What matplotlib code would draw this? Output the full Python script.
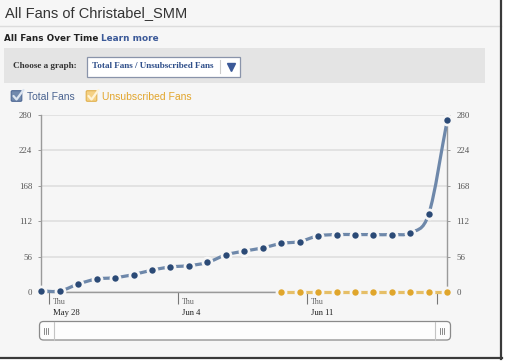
import numpy as np
import matplotlib
matplotlib.use("Agg")
import matplotlib.pyplot as plt
import matplotlib.transforms as mtransforms
from matplotlib.path import Path
from matplotlib.patches import PathPatch, Rectangle, FancyBboxPatch

# ---------------- data ----------------
total_fans = [2, 2, 13, 21, 23, 28, 35, 40, 42, 47, 59, 65, 70, 77, 80, 89,
              91, 91, 91, 91, 94, 124, 272]
unsub_start = 13
unsub_fans = [0, 0, 0, 0, 0, 0, 0, 0, 0, 0]
y_ticks = [0, 56, 112, 168, 224, 280]
week_labels = [("Thu", "May 28"), ("Thu", "Jun 4"), ("Thu", "Jun 11"), ("", "")]
title = "All Fans of Christabel_SMM"

W, H = 506, 361
BG = "#f6f6f6"
BLUE_LINE = "#6e88aa"
BLUE_DOT = "#2b4a76"
ORANGE_LINE = "#e6bf67"
ORANGE_DOT = "#e0a62c"

fig = plt.figure(figsize=(W / 100, H / 100), dpi=100)
fig.patch.set_facecolor("white")

# ------------- background / page layer (pixel coords) -------------
bg = fig.add_axes([0, 0, 1, 1], zorder=0)
bg.set_xlim(0, W)
bg.set_ylim(H, 0)
bg.axis("off")

bg.add_patch(Rectangle((0, 0), 501, 357, facecolor=BG, edgecolor="none"))
bg.plot([0, 501], [25.5, 25.5], color="#dcdcdc", lw=1)
bg.plot([501.5, 501.5], [0, 358.5], color="#3a3a3a", lw=1.6)
bg.plot([0, 502], [357.8, 357.8], color="#3a3a3a", lw=1.6)

bg.text(5, 13, title, fontsize=10.5, family="Liberation Sans",
        color="#333333", va="center", ha="left")

bg.text(4, 38.5, "All Fans Over Time", fontsize=6.4, family="DejaVu Sans",
        weight="bold", color="#222222", va="center", ha="left")
bg.text(101, 38.5, "Learn more", fontsize=6.4, family="DejaVu Sans",
        weight="bold", color="#3b5998", va="center", ha="left")

bg.add_patch(Rectangle((4, 48), 481, 35, facecolor="#e4e4e4", edgecolor="none"))
bg.text(13, 66, "Choose a graph:", fontsize=6.6, family="Liberation Serif",
        weight="bold", color="#333333", va="center", ha="left")
bg.add_patch(Rectangle((87.5, 56.5), 153, 20, facecolor="white",
                       edgecolor="#8a94aa", lw=0.9))
bg.text(92, 66.5, "Total Fans / Unsubscribed Fans", fontsize=6.6,
        family="Liberation Serif", weight="bold", color="#2f4f8a",
        va="center", ha="left")
bg.plot([220.5, 220.5], [60, 73], color="#cccccc", lw=0.8)
bg.plot([231], [66.5], marker="v", ms=5.5, color="#3b5998", ls="none")


def checkbox(x, y, face, edge, check):
    bg.add_patch(FancyBboxPatch((x, y), 10, 10, boxstyle="round,pad=0.3,rounding_size=1.2",
                                facecolor=face, edgecolor=edge, lw=0.8))
    bg.plot([x + 2, x + 5, x + 12], [y + 5, y + 8.5, y - 1], color=check,
            lw=1.6, solid_capstyle="round", solid_joinstyle="round")


checkbox(11.5, 91, "#7189ad", "#4e6894", "#dde5f0")
bg.text(27, 96.5, "Total Fans", fontsize=7.5, family="Liberation Sans",
        color="#4a6390", va="center", ha="left")
checkbox(86.5, 91, "#f5d184", "#e1b14f", "#fff3d6")
bg.text(102, 96.5, "Unsubscribed Fans", fontsize=7.5, family="Liberation Sans",
        color="#e2a52c", va="center", ha="left")

# scrollbar
bg.add_patch(FancyBboxPatch((39.5, 321.5), 411, 18.5,
                            boxstyle="round,pad=0,rounding_size=4",
                            facecolor="#fdfdfd", edgecolor="#8a8a8a", lw=0.9))
bg.plot([54.5, 54.5], [322, 340], color="#c4c4c4", lw=0.8)
bg.plot([435.5, 435.5], [322, 340], color="#c4c4c4", lw=0.8)
for gx in (44.5, 440.5):
    for k in range(3):
        bg.plot([gx + k * 1.6, gx + k * 1.6], [327.5, 334], color="#777777", lw=0.6)

# ---------------- chart ----------------
x0, x1, ytop, ybot = 41.3, 447.3, 114.7, 292.3
ax = fig.add_axes([x0 / W, 1 - ybot / H, (x1 - x0) / W, (ybot - ytop) / H], zorder=1)
ax.set_facecolor("none")
n = len(total_fans)
ax.set_xlim(0, n - 1)
ax.set_ylim(0, 280)

ax.spines["top"].set_visible(False)
for s in ("left", "right", "bottom"):
    ax.spines[s].set_color("#9a9a9a")
    ax.spines[s].set_linewidth(1.0)

ax.set_yticks(y_ticks)
ax.set_yticklabels([str(v) for v in y_ticks])
ax.tick_params(axis="y", which="both", left=True, right=True, labelleft=True,
               labelright=True, length=2.5, width=0.7, color="#9a9a9a",
               labelsize=6.4, labelcolor="#555555", pad=4)
for lab in ax.yaxis.get_ticklabels(which="both"):
    lab.set_family("Liberation Serif")
ax.yaxis.grid(True, color="#e2e2e2", lw=1.4)
ax.set_axisbelow(True)

tick_offset = 0.42
xticks = [tick_offset + 7 * i for i in range(len(week_labels))]
ax.set_xticks(xticks)
ax.set_xticklabels([])
ax.tick_params(axis="x", length=8.5, width=0.8, color="#777777", direction="out")

trans = ax.get_xaxis_transform()
off1 = mtransforms.offset_copy(trans, fig=fig, x=3.5, y=-9.5, units="dots")
off2 = mtransforms.offset_copy(trans, fig=fig, x=4, y=-21, units="dots")
for xt, (d, m) in zip(xticks, week_labels):
    ax.text(xt, 0, d, transform=off1, fontsize=5.8, family="Liberation Serif",
            color="#666666", ha="left", va="center")
    ax.text(xt, 0, m, transform=off2, fontsize=6.2, family="Liberation Serif",
            color="#222222", ha="left", va="center")


def smooth_path(xs, ys):
    P = np.column_stack([xs, ys]).astype(float)
    m = len(P)
    T = np.zeros_like(P)
    T[0] = P[1] - P[0]
    T[-1] = P[-1] - P[-2]
    for i in range(1, m - 1):
        T[i] = (P[i + 1] - P[i - 1]) / 2
    verts = [P[0]]
    codes = [Path.MOVETO]
    for i in range(m - 1):
        verts += [P[i] + T[i] / 3, P[i + 1] - T[i + 1] / 3, P[i + 1]]
        codes += [Path.CURVE4] * 3
    return Path(verts, codes)


xs_total = np.arange(n)
ax.add_patch(PathPatch(smooth_path(xs_total, total_fans), facecolor="none",
                       edgecolor=BLUE_LINE, lw=2.3, zorder=3, clip_on=False,
                       capstyle="round"))
ax.plot(xs_total, total_fans, ls="none", marker="o", ms=8.5, color=BG,
        zorder=4, clip_on=False, mew=0)
ax.plot(xs_total, total_fans, ls="none", marker="o", ms=4.6, color=BLUE_DOT,
        zorder=5, clip_on=False, mew=0)

xs_unsub = np.arange(unsub_start, unsub_start + len(unsub_fans))
ax.plot(xs_unsub, unsub_fans, color=ORANGE_LINE, lw=2.3, zorder=3, clip_on=False)
ax.plot(xs_unsub, unsub_fans, ls="none", marker="o", ms=8.5, color=BG,
        zorder=4, clip_on=False, mew=0)
ax.plot(xs_unsub, unsub_fans, ls="none", marker="o", ms=4.6, color=ORANGE_DOT,
        zorder=5, clip_on=False, mew=0)

fig.savefig("out.png", dpi=100, facecolor=fig.get_facecolor())
